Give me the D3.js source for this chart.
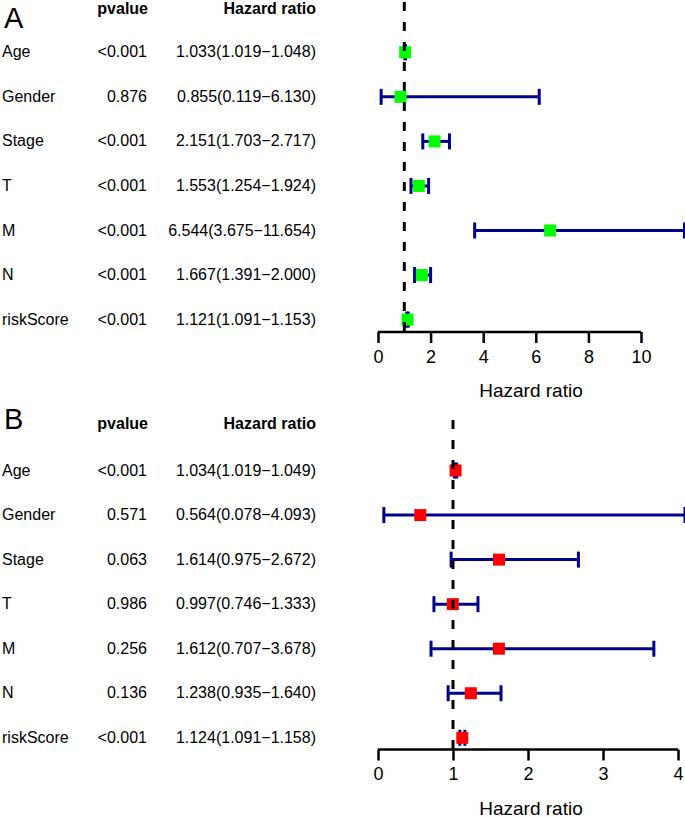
<!DOCTYPE html>
<html lang="en">
<head>
  <meta charset="UTF-8">
  <title>Forest plots</title>
  <script src="https://d3js.org/d3.v7.min.js"></script>
  <style>
    body { margin: 0; background: white; }
    svg { font-family: 'Liberation Sans', Arial, sans-serif; }
    .hdr { font-weight: bold; font-size: 16px; }
    .cell { font-size: 16px; }
  </style>
</head>
<body>
  <svg width="685" height="817"></svg>

  <script>
    // shared row labels
    const variables = ["Age", "Gender", "Stage", "T", "M", "N", "riskScore"];

    // panel A (univariate)
    const pvalA = ["<0.001", "0.876", "<0.001", "<0.001", "<0.001", "<0.001", "<0.001"];
    const hrA = [1.033, 0.855, 2.151, 1.553, 6.544, 1.667, 1.121];
    const lowA = [1.019, 0.119, 1.703, 1.254, 3.675, 1.391, 1.091];
    const highA = [1.048, 6.130, 2.717, 1.924, 11.654, 2.000, 1.153];
    const ticksA = [0, 2, 4, 6, 8, 10];

    // panel B (multivariate)
    const pvalB = ["<0.001", "0.571", "0.063", "0.986", "0.256", "0.136", "<0.001"];
    const hrB = [1.034, 0.564, 1.614, 0.997, 1.612, 1.238, 1.124];
    const lowB = [1.019, 0.078, 0.975, 0.746, 0.707, 0.935, 1.091];
    const highB = [1.049, 4.093, 2.672, 1.333, 3.678, 1.640, 1.158];
    const ticksB = [0, 1, 2, 3, 4];

    const svg = d3.select("svg");
    const fmt = d3.format(".3f");

    function forest(opt) {
      const g = svg.append("g");
      const x = d3.scaleLinear().domain([0, d3.max(opt.ticks)]).range([378, opt.axisRight]);
      const y = d3.scalePoint().domain(variables).range([opt.rowTop, opt.rowTop + 44.55 * 6]);

      // panel letter + headers
      g.append("text").attr("x", 4).attr("y", opt.letterY)
        .style("font-size", "29px").text(opt.letter);
      g.append("text").attr("class", "hdr").attr("x", 148).attr("y", opt.hdrY)
        .attr("text-anchor", "end").text("pvalue");
      g.append("text").attr("class", "hdr").attr("x", 316).attr("y", opt.hdrY)
        .attr("text-anchor", "end").text("Hazard ratio");

      const rows = variables.map((v, i) => ({
        name: v, p: opt.pval[i], hr: opt.hr[i], lo: opt.low[i], hi: opt.high[i]
      }));

      const row = g.selectAll(".row").data(rows).enter().append("g").attr("class", "row");
      row.append("text").attr("class", "cell").attr("x", 2)
        .attr("y", d => y(d.name) + 5).text(d => d.name);
      row.append("text").attr("class", "cell").attr("x", 147).attr("text-anchor", "end")
        .attr("y", d => y(d.name) + 5).text(d => d.p);
      row.append("text").attr("class", "cell").attr("x", 316).attr("text-anchor", "end")
        .attr("y", d => y(d.name) + 5)
        .text(d => `${fmt(d.hr)}(${fmt(d.lo)}\u2212${fmt(d.hi)})`);

      // reference line at HR = 1
      g.append("line")
        .attr("x1", x(1)).attr("x2", x(1))
        .attr("y1", opt.dashTop).attr("y2", opt.axisY)
        .attr("stroke", "black").attr("stroke-width", 3)
        .attr("stroke-dasharray", "9,11");

      // whiskers
      const navy = "#00008B";
      row.append("line")
        .attr("x1", d => x(d.lo)).attr("x2", d => x(d.hi))
        .attr("y1", d => y(d.name)).attr("y2", d => y(d.name))
        .attr("stroke", navy).attr("stroke-width", 3);
      ["lo", "hi"].forEach(k => {
        row.append("line")
          .attr("x1", d => x(d[k])).attr("x2", d => x(d[k]))
          .attr("y1", d => y(d.name) - 8).attr("y2", d => y(d.name) + 8)
          .attr("stroke", navy).attr("stroke-width", 3);
      });
      row.append("rect")
        .attr("x", d => x(d.hr) - 6).attr("y", d => y(d.name) - 6)
        .attr("width", 12).attr("height", 12)
        .attr("fill", opt.color);

      // axis
      const ax = g.append("g").attr("transform", `translate(0,${opt.axisY})`)
        .call(d3.axisBottom(x).tickValues(opt.ticks).tickFormat(d3.format("d"))
          .tickSize(11).tickPadding(7).tickSizeOuter(0));
      ax.select(".domain").attr("stroke-width", 2.5).attr("d", `M${x(0)},0H${x(d3.max(opt.ticks))}`);
      ax.selectAll(".tick line").attr("stroke-width", 2.5);
      ax.selectAll(".tick text").style("font-size", "18px")
        .style("font-family", "'Liberation Sans', Arial, sans-serif").attr("fill", "black");

      g.append("text").attr("x", 531).attr("y", opt.axisY + 65)
        .attr("text-anchor", "middle").style("font-size", "19px").text("Hazard ratio");
    }

    forest({
      letter: "A", letterY: 28, hdrY: 14, rowTop: 52.3, dashTop: 2, axisY: 332, axisRight: 641,
      pval: pvalA, hr: hrA, low: lowA, high: highA, ticks: ticksA, color: "#00FF00"
    });
    forest({
      letter: "B", letterY: 429, hdrY: 429, rowTop: 470.5, dashTop: 420, axisY: 749.5, axisRight: 678,
      pval: pvalB, hr: hrB, low: lowB, high: highB, ticks: ticksB, color: "#FF0000"
    });
  </script>
</body>
</html>
